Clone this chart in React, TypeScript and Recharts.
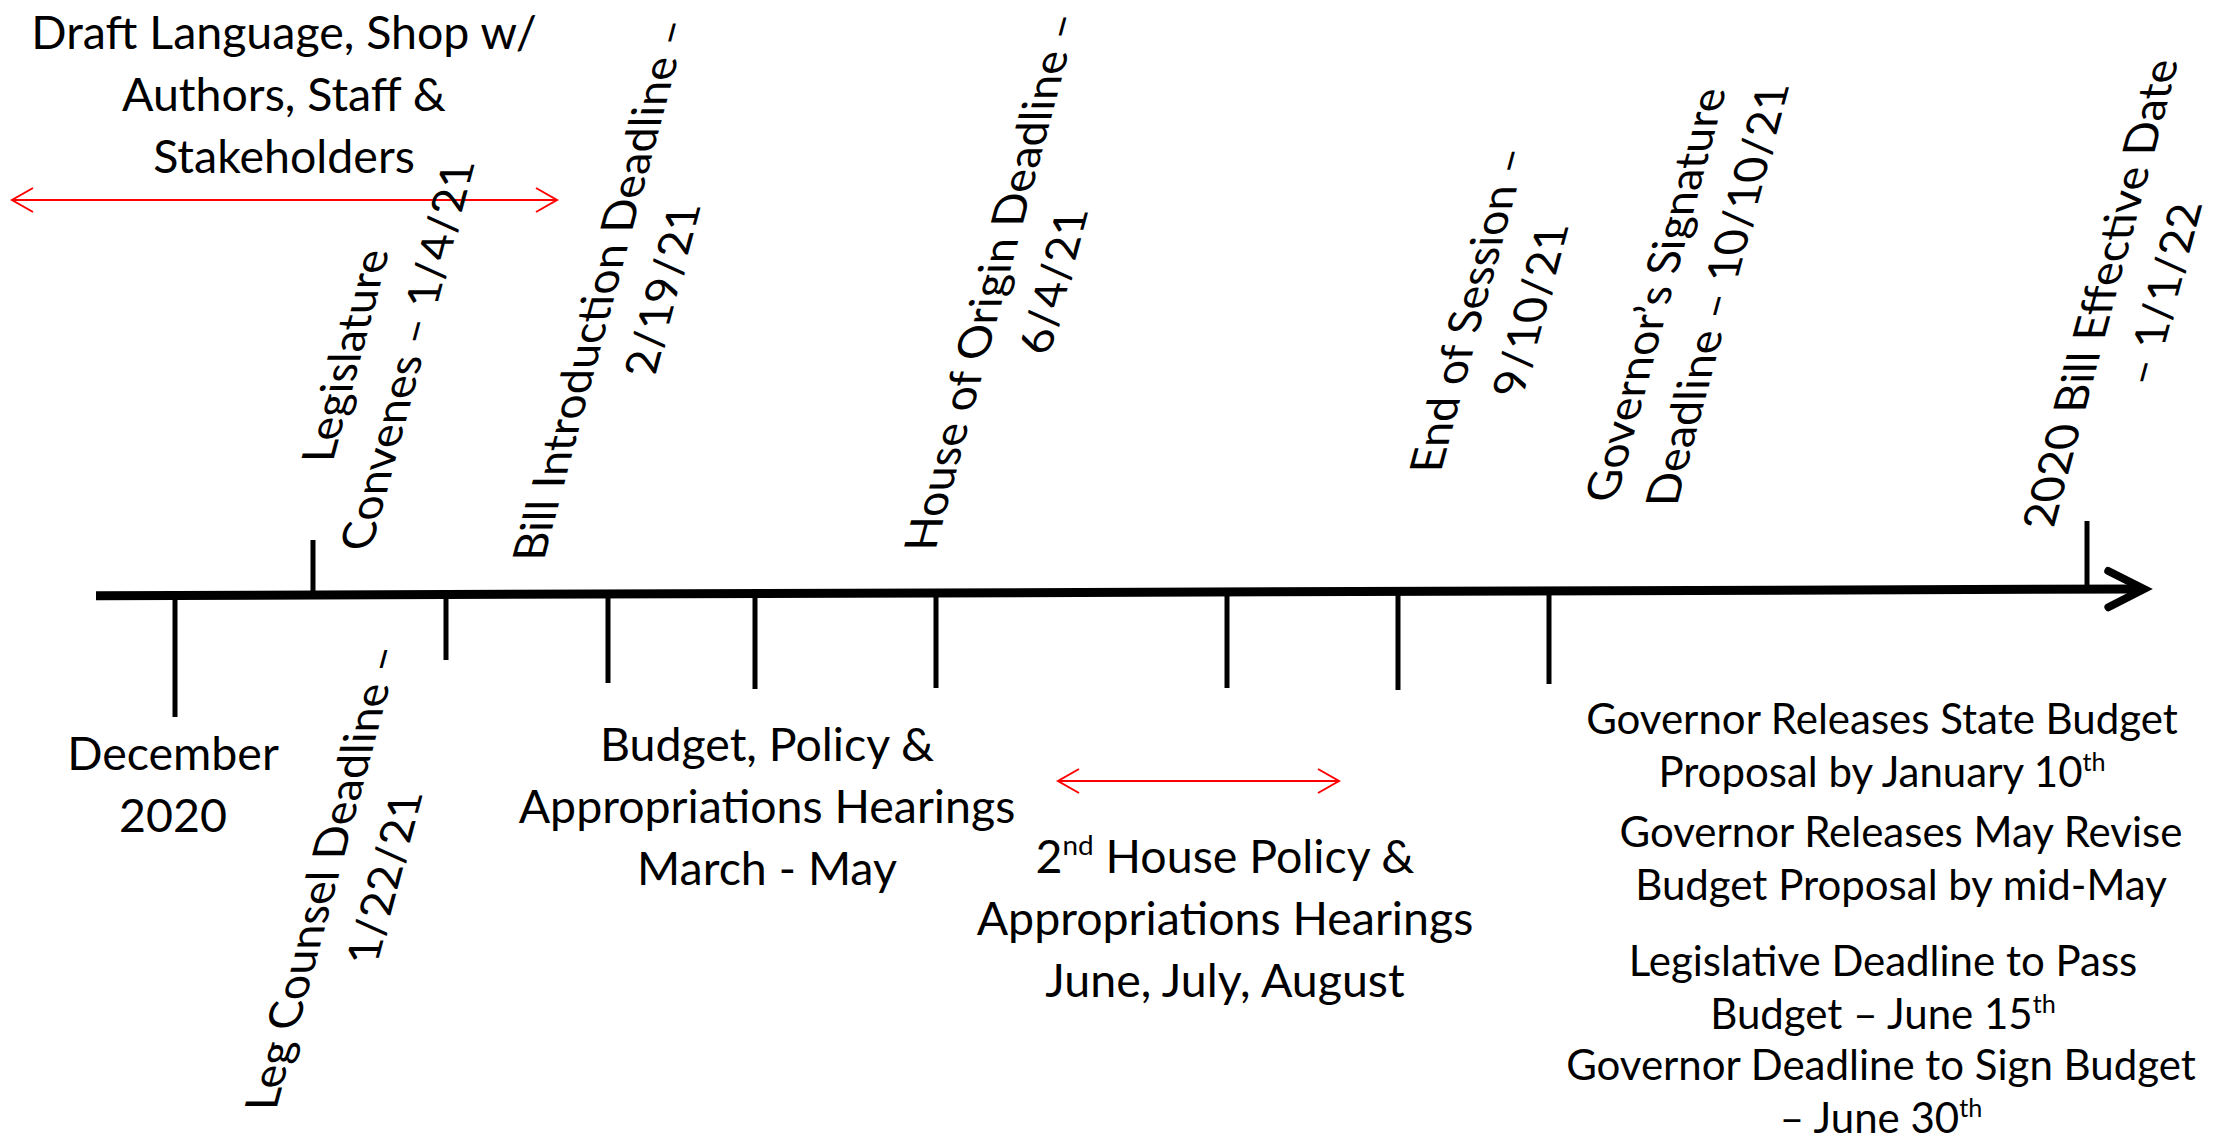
import React from 'react';
import { ScatterChart, Scatter, XAxis, YAxis, ReferenceLine } from 'recharts';

// ---------- data (timeline units; vertical values are measured from the main axis) ----------
const CHART_W = 2217;
const CHART_H = 1142;
const X_DOMAIN = [0, 2217];
const Y_DOMAIN = [-550, 592];

// main timeline axis end points
const axisX = [96, 2144];
const axisY = [-3.7, 3];

// tick marks: position along the timeline and length (+ above, - below)
const tickX = [175, 313, 446, 608, 755, 936, 1227, 1398, 1549, 2087];
const tickLen = [-125, 52, -68, -91, -97, -96, -96, -98, -92, 71];

// red span arrows
const spanStart = [12, 1058];
const spanEnd = [557, 1339];
const spanY = [392, -189];

// rotated milestone labels
const milestoneX = [375, 630, 1021, 1498, 1685, 2130, 352];
const milestoneY = [236, 302, 310, 282, 297, 298, -286];
const milestoneLines = [
  ['Legislature', 'Convenes – 1/4/21'],
  ['Bill Introduction Deadline –', '2/19/21'],
  ['House of Origin Deadline –', '6/4/21'],
  ['End of Session –', '9/10/21'],
  ['Governor’s Signature', 'Deadline – 10/10/21'],
  ['2020 Bill Effective Date', '– 1/1/22'],
  ['Leg Counsel Deadline –', '1/22/21'],
];

// horizontal notes
const noteX = [284, 173, 767, 1225];
const noteY = [543, -178, -169, -281];
const noteLines = [
  ['Draft Language, Shop w/', 'Authors, Staff &', 'Stakeholders'],
  ['December', '2020'],
  ['Budget, Policy &', 'Appropriations Hearings', 'March - May'],
  ['2{nd} House Policy &', 'Appropriations Hearings', 'June, July, August'],
];

// budget notes (right side)
const budgetX = [1882, 1901, 1883, 1881];
const budgetY = [-142, -255, -384, -488];
const budgetLines = [
  ['Governor Releases State Budget', 'Proposal by January 10{th}'],
  ['Governor Releases May Revise', 'Budget Proposal by mid-May'],
  ['Legislative Deadline to Pass', 'Budget – June 15{th}'],
  ['Governor Deadline to Sign Budget', '– June 30{th}'],
];

// ---------- derived tables ----------
const milestones = milestoneX.map((x, i) => ({ x, y: milestoneY[i], lines: milestoneLines[i] }));
const notes = noteX.map((x, i) => ({ x, y: noteY[i], lines: noteLines[i] }));
const budgets = budgetX.map((x, i) => ({ x, y: budgetY[i], lines: budgetLines[i] }));
const axisSegment = [
  { x: axisX[0], y: axisY[0] },
  { x: axisX[1], y: axisY[1] },
];

// ---------- styles ----------
const FONT = "Lato, 'Open Sans', sans-serif";
const TEXT = '#000';
const MAIN_SIZE = 46.5;
const MAIN_GAP = 62;
const BUDGET_SIZE = 42;
const BUDGET_GAP = 53;
const ROT_SIZE = 45;
const ROT_GAP = 62;
const SKEW = -15;
const RED = '#ff0000';

function renderRich(line: string, size: number) {
  const parts = line.split(/\{(.+?)\}/);
  const out: any[] = [];
  let raised = false;
  parts.forEach((p, i) => {
    if (p === '') return;
    if (i % 2 === 1) {
      out.push(
        <tspan key={i} fontSize={size * 0.6} dy={-size * 0.38}>
          {p}
        </tspan>
      );
      raised = true;
    } else {
      out.push(
        <tspan key={i} dy={raised ? size * 0.38 : 0}>
          {p}
        </tspan>
      );
      raised = false;
    }
  });
  return out;
}

const makeBlock = (size: number, gap: number) => (props: any) => {
  const { cx, cy, payload } = props;
  if (cx == null || cy == null) return <g />;
  return (
    <g>
      {payload.lines.map((t: string, i: number) => (
        <text
          key={i}
          x={cx}
          y={cy + i * gap}
          textAnchor="middle"
          fontFamily={FONT}
          fontSize={size}
          fill={TEXT}
        >
          {renderRich(t, size)}
        </text>
      ))}
    </g>
  );
};

const MilestoneLabel = (props: any) => {
  const { cx, cy, payload } = props;
  if (cx == null || cy == null) return <g />;
  const n = payload.lines.length;
  return (
    <g transform={`translate(${cx},${cy}) skewX(${SKEW}) rotate(-90)`}>
      {payload.lines.map((t: string, i: number) => (
        <text
          key={i}
          x={0}
          y={(i - (n - 1) / 2) * ROT_GAP}
          textAnchor="middle"
          dominantBaseline="central"
          fontFamily={FONT}
          fontSize={ROT_SIZE}
          fill={TEXT}
        >
          {t}
        </text>
      ))}
    </g>
  );
};

const AxisArrow = (p: any) => {
  const { x1, y1, x2, y2 } = p;
  if (x1 == null) return <g />;
  const ang = Math.atan2(y2 - y1, x2 - x1);
  const len = 40;
  const spread = 0.47;
  const a1x = x2 - len * Math.cos(ang - spread);
  const a1y = y2 - len * Math.sin(ang - spread);
  const a2x = x2 - len * Math.cos(ang + spread);
  const a2y = y2 - len * Math.sin(ang + spread);
  return (
    <g>
      <line x1={x1} y1={y1} x2={x2 - 5 * Math.cos(ang)} y2={y2 - 5 * Math.sin(ang)} stroke="#000" strokeWidth={9} />
      <polyline
        points={`${a1x},${a1y} ${x2},${y2} ${a2x},${a2y}`}
        fill="none"
        stroke="#000"
        strokeWidth={8}
        strokeLinecap="round"
        strokeLinejoin="miter"
      />
    </g>
  );
};

const SpanArrow = (p: any) => {
  const { x1, y1, x2, y2 } = p;
  if (x1 == null) return <g />;
  const back = 21;
  const half = 12;
  return (
    <g stroke={RED} strokeWidth={2} fill="none">
      <line x1={x1} y1={y1} x2={x2} y2={y2} />
      <polyline points={`${x1 + back},${y1 - half} ${x1},${y1} ${x1 + back},${y1 + half}`} />
      <polyline points={`${x2 - back},${y2 - half} ${x2},${y2} ${x2 - back},${y2 + half}`} />
    </g>
  );
};

const NoteBlock = makeBlock(MAIN_SIZE, MAIN_GAP);
const BudgetBlock = makeBlock(BUDGET_SIZE, BUDGET_GAP);

export default function App() {
  return (
    <div style={{ position: 'absolute', left: 0, top: 0, width: CHART_W, height: CHART_H, background: '#fff' }}>
      <ScatterChart width={CHART_W} height={CHART_H} margin={{ top: 0, right: 0, bottom: 0, left: 0 }}>
        <XAxis type="number" dataKey="x" domain={X_DOMAIN} hide allowDataOverflow />
        <YAxis type="number" dataKey="y" domain={Y_DOMAIN} hide allowDataOverflow />
        {tickX.map((x, i) => (
          <ReferenceLine
            key={'t' + i}
            segment={[
              { x, y: 0 },
              { x, y: tickLen[i] },
            ]}
            stroke="#000"
            strokeWidth={5}
            ifOverflow="visible"
          />
        ))}
        <ReferenceLine segment={axisSegment} shape={AxisArrow} ifOverflow="visible" />
        {spanStart.map((x, i) => (
          <ReferenceLine
            key={'s' + i}
            segment={[
              { x, y: spanY[i] },
              { x: spanEnd[i], y: spanY[i] },
            ]}
            shape={SpanArrow}
            ifOverflow="visible"
          />
        ))}
        <Scatter data={milestones} dataKey="y" isAnimationActive={false} shape={MilestoneLabel} />
        <Scatter data={notes} dataKey="y" isAnimationActive={false} shape={NoteBlock} />
        <Scatter data={budgets} dataKey="y" isAnimationActive={false} shape={BudgetBlock} />
      </ScatterChart>
    </div>
  );
}
